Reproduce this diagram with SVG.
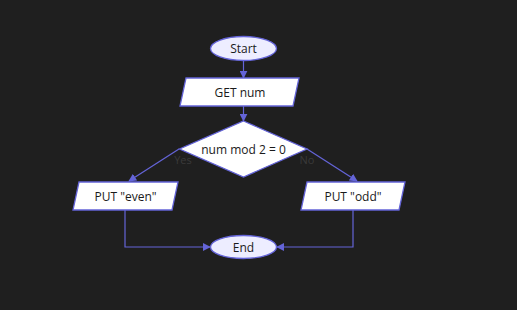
<svg xmlns="http://www.w3.org/2000/svg" width="517" height="310" viewBox="0 0 517 310">
<defs>
<style>
.node{fill:#ffffff;stroke:#6464d8;stroke-width:1.3}
.term{fill:#ededff;stroke:#6464d8;stroke-width:1.3}
.lbl{font-family:"Open Sans","Liberation Sans",sans-serif;font-size:12px;fill:#1a1a1a;text-anchor:middle;dominant-baseline:central}
.edge{fill:none;stroke:#6464d8;stroke-width:1.2}
.elbl{font-family:"Open Sans","Liberation Sans",sans-serif;font-size:11px;fill:#3a3a3a;text-anchor:middle;dominant-baseline:central}
</style>
<marker id="arr" viewBox="0 0 10 10" refX="9" refY="5" markerWidth="8" markerHeight="8" markerUnits="userSpaceOnUse" orient="auto">
<path d="M0,0 L10,5 L0,10 z" fill="#6464d8"/>
</marker>
</defs>
<rect width="517" height="310" fill="#1f1f1f"/>
<g id="connectors">
<line class="edge" x1="243.5" y1="61" x2="243.5" y2="78" marker-end="url(#arr)"/>
<line class="edge" x1="243.5" y1="106" x2="243.5" y2="121" marker-end="url(#arr)"/>
<line class="edge" x1="179" y1="149" x2="129" y2="181" marker-end="url(#arr)"/>
<line class="edge" x1="307" y1="149" x2="357" y2="181" marker-end="url(#arr)"/>
<polyline class="edge" points="125,210 125,247 210,247" marker-end="url(#arr)"/>
<polyline class="edge" points="353,210 353,247 277,247" marker-end="url(#arr)"/>
<text class="elbl" x="183" y="159">Yes</text>
<text class="elbl" x="307" y="159">No</text>
</g>
<g id="start">
<ellipse class="term" cx="243.5" cy="48.5" rx="33" ry="12"/>
<text class="lbl" x="243.5" y="48.5">Start</text>
</g>
<g id="get">
<polygon class="node" points="186,78 299,78 293,106 180,106"/>
<text class="lbl" x="240" y="92">GET num</text>
</g>
<g id="decision">
<polygon class="node" points="243.5,121 307,149 243.5,177 179.5,149"/>
<text class="lbl" x="243.5" y="149">num mod 2 = 0</text>
</g>
<g id="even">
<polygon class="node" points="79,182 178,182 172,210 73,210"/>
<text class="lbl" x="125.5" y="196">PUT "even"</text>
</g>
<g id="odd">
<polygon class="node" points="307,182 405,182 399,210 301,210"/>
<text class="lbl" x="353" y="196">PUT "odd"</text>
</g>
<g id="end">
<ellipse class="term" cx="243.5" cy="247" rx="33" ry="11.5"/>
<text class="lbl" x="243.5" y="247">End</text>
</g>
</svg>
